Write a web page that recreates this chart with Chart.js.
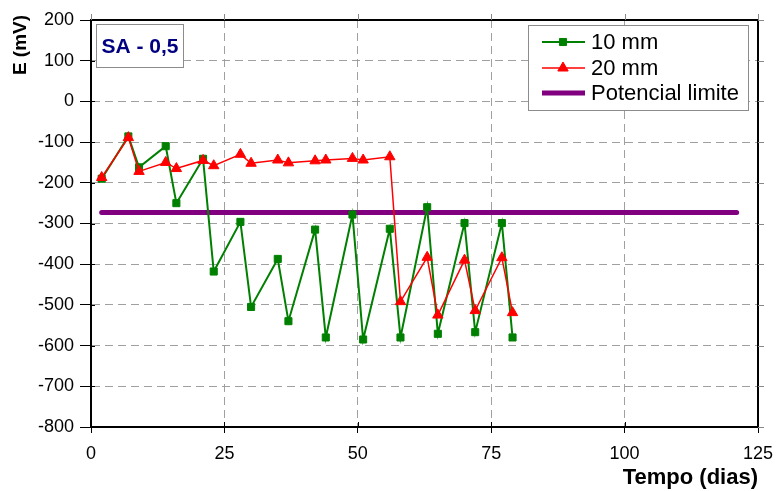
<!DOCTYPE html>
<html>
<head>
<meta charset="utf-8">
<script src="https://cdn.jsdelivr.net/npm/chart.js@4.4.1/dist/chart.umd.min.js"></script>
<style>
  html, body { margin: 0; padding: 0; background: #fff; }
  canvas { display: block; }
</style>
</head>
<body>
<canvas id="c" width="779" height="491"></canvas>
<script>
// Measurement days (tempo, dias)
const days = [2, 7, 9, 14, 16, 21, 23, 28, 30, 35, 37, 42, 44, 49, 51, 56, 58, 63, 65, 70, 72, 77, 79];
// Potential readings (mV) at 10 mm cover
const e10mm = [-190, -86, -162, -110, -250, -141, -418, -296, -505, -387, -540, -315, -580, -278, -585, -313, -580, -260, -571, -299, -567, -299, -580];
// Potential readings (mV) at 20 mm cover
const e20mm = [-187, -89, -172, -150, -165, -145, -158, -130, -152, -144, -151, -146, -144, -140, -144, -136, -492, -383, -525, -390, -514, -384, -519];
// Threshold potential line
const limitDays = [2, 121];
const limitE = [-273, -273];
// Axis ticks
const xTicks = [0, 25, 50, 75, 100, 125];
const yTicks = [200, 100, 0, -100, -200, -300, -400, -500, -600, -700, -800];

const seriesNames = ['10 mm', '20 mm', 'Potencial limite'];
const panelLabel = 'SA - 0,5';
const yTitle = 'E (mV)';
const xTitle = 'Tempo (dias)';

const toPoints = (xs, ys) => xs.map((x, i) => ({ x: x, y: ys[i] }));

const FONT = '"Liberation Sans", Arial, sans-serif';

// Frame, tick marks, axis title, label box and legend box
const decorations = {
  id: 'decorations',
  afterDraw(chart) {
    const { ctx, chartArea: a, scales } = chart;
    ctx.save();
    // plot frame
    ctx.strokeStyle = '#000';
    ctx.lineWidth = 2;
    ctx.strokeRect(a.left, a.top, a.right - a.left, a.bottom - a.top);
    // tick stubs reaching into the plot on the axes
    ctx.lineWidth = 1;
    ctx.beginPath();
    xTicks.forEach(v => {
      const px = Math.round(scales.x.getPixelForValue(v)) + 0.5;
      ctx.moveTo(px, a.bottom); ctx.lineTo(px, a.bottom - 5);
    });
    yTicks.forEach(v => {
      const py = Math.round(scales.y.getPixelForValue(v)) + 0.5;
      ctx.moveTo(a.left, py); ctx.lineTo(a.left + 4, py);
    });
    ctx.stroke();
    // small ticks outside the top and right edges
    ctx.strokeStyle = '#888';
    ctx.beginPath();
    xTicks.forEach(v => {
      const px = Math.round(scales.x.getPixelForValue(v)) + 0.5;
      ctx.moveTo(px, a.top - 6); ctx.lineTo(px, a.top);
    });
    yTicks.forEach(v => {
      const py = Math.round(scales.y.getPixelForValue(v)) + 0.5;
      ctx.moveTo(a.right, py); ctx.lineTo(a.right + 6, py);
    });
    ctx.stroke();

    // vertical axis title, placed at the top
    ctx.save();
    ctx.translate(21, 45);
    ctx.rotate(-Math.PI / 2);
    ctx.fillStyle = '#000';
    ctx.font = 'bold 19px ' + FONT;
    ctx.textAlign = 'center';
    ctx.textBaseline = 'middle';
    ctx.fillText(yTitle, 0, 0);
    ctx.restore();

    // panel label
    ctx.fillStyle = '#fff';
    ctx.fillRect(96, 24, 87, 43);
    ctx.strokeStyle = '#8c8c8c';
    ctx.lineWidth = 1;
    ctx.strokeRect(96.5, 24.5, 87, 43);
    ctx.fillStyle = '#000080';
    ctx.font = 'bold 21px ' + FONT;
    ctx.textAlign = 'center';
    ctx.textBaseline = 'middle';
    ctx.fillText(panelLabel, 140, 47);

    // legend
    ctx.fillStyle = '#fff';
    ctx.fillRect(528, 25, 220, 85);
    ctx.strokeStyle = '#8c8c8c';
    ctx.strokeRect(528.5, 25.5, 220, 85);
    const rows = [42, 68, 93];
    chart.data.datasets.forEach((ds, i) => {
      const y = rows[i];
      ctx.strokeStyle = ds.borderColor;
      ctx.lineWidth = ds.borderWidth;
      ctx.beginPath();
      ctx.moveTo(542, y); ctx.lineTo(585, y);
      ctx.stroke();
      if (ds.pointRadius > 0) {
        ctx.fillStyle = ds.pointBackgroundColor;
        ctx.strokeStyle = ds.pointBorderColor;
        ctx.lineWidth = ds.pointBorderWidth;
        ctx.beginPath();
        if (ds.pointStyle === 'rect') {
          const s = ds.pointRadius * Math.SQRT1_2;
          ctx.rect(563 - s, y - s, 2 * s, 2 * s);
        } else {
          const r = ds.pointRadius;
          ctx.moveTo(563, y - r);
          ctx.lineTo(563 + r * 0.866, y + r / 2);
          ctx.lineTo(563 - r * 0.866, y + r / 2);
          ctx.closePath();
        }
        ctx.fill();
        ctx.stroke();
      }
      ctx.fillStyle = '#000';
      ctx.font = '22px ' + FONT;
      ctx.textAlign = 'left';
      ctx.textBaseline = 'middle';
      ctx.fillText(ds.label, 591, y + 1);
    });
    ctx.restore();
  }
};

new Chart(document.getElementById('c'), {
  type: 'scatter',
  data: {
    datasets: [
      {
        label: seriesNames[0],
        data: toPoints(days, e10mm),
        showLine: true,
        borderColor: '#008000',
        borderWidth: 2,
        pointStyle: 'rect',
        pointRadius: 5,
        pointBorderWidth: 1,
        pointBackgroundColor: '#008000',
        pointBorderColor: '#008000',
        order: 2
      },
      {
        label: seriesNames[1],
        data: toPoints(days, e20mm),
        showLine: true,
        borderColor: '#ff0000',
        borderWidth: 1.5,
        pointStyle: 'triangle',
        pointRadius: 6,
        pointBorderWidth: 1,
        pointBackgroundColor: '#ff0000',
        pointBorderColor: '#ff0000',
        order: 1
      },
      {
        label: seriesNames[2],
        data: toPoints(limitDays, limitE),
        showLine: true,
        borderColor: '#800080',
        borderWidth: 5,
        borderCapStyle: 'round',
        pointRadius: 0,
        order: 3
      }
    ]
  },
  options: {
    responsive: false,
    animation: false,
    devicePixelRatio: 1,
    layout: { padding: { left: 0, right: 21, top: 20, bottom: 0 } },
    plugins: {
      legend: { display: false },
      tooltip: { enabled: false }
    },
    scales: {
      x: {
        type: 'linear',
        min: 0,
        max: 125,
        afterBuildTicks: s => { s.ticks = xTicks.map(v => ({ value: v })); },
        afterFit: s => { s.height = 64; s.paddingLeft = 0; s.paddingRight = 0; },
        ticks: { color: '#000', font: { family: FONT, size: 18 }, padding: 10, maxRotation: 0 },
        grid: { color: '#a0a0a0', lineWidth: 1, tickLength: 6, tickColor: '#000', tickBorderDash: [] },
        border: { display: true, color: '#000', width: 2, dash: [8, 5] },
        title: {
          display: true, text: xTitle, align: 'end', color: '#000',
          font: { family: FONT, size: 22, weight: 'bold' }, padding: { top: 0, bottom: 0 }
        }
      },
      y: {
        type: 'linear',
        min: -800,
        max: 200,
        afterBuildTicks: s => { s.ticks = yTicks.map(v => ({ value: v })); },
        afterFit: s => { s.width = 91; s.paddingTop = 0; s.paddingBottom = 0; },
        ticks: { color: '#000', font: { family: FONT, size: 18 }, padding: 6 },
        grid: { color: '#a0a0a0', lineWidth: 1, tickLength: 11, tickColor: '#000', tickBorderDash: [] },
        border: { display: true, color: '#000', width: 2, dash: [8, 5] }
      }
    }
  },
  plugins: [decorations]
});
</script>
</body>
</html>
